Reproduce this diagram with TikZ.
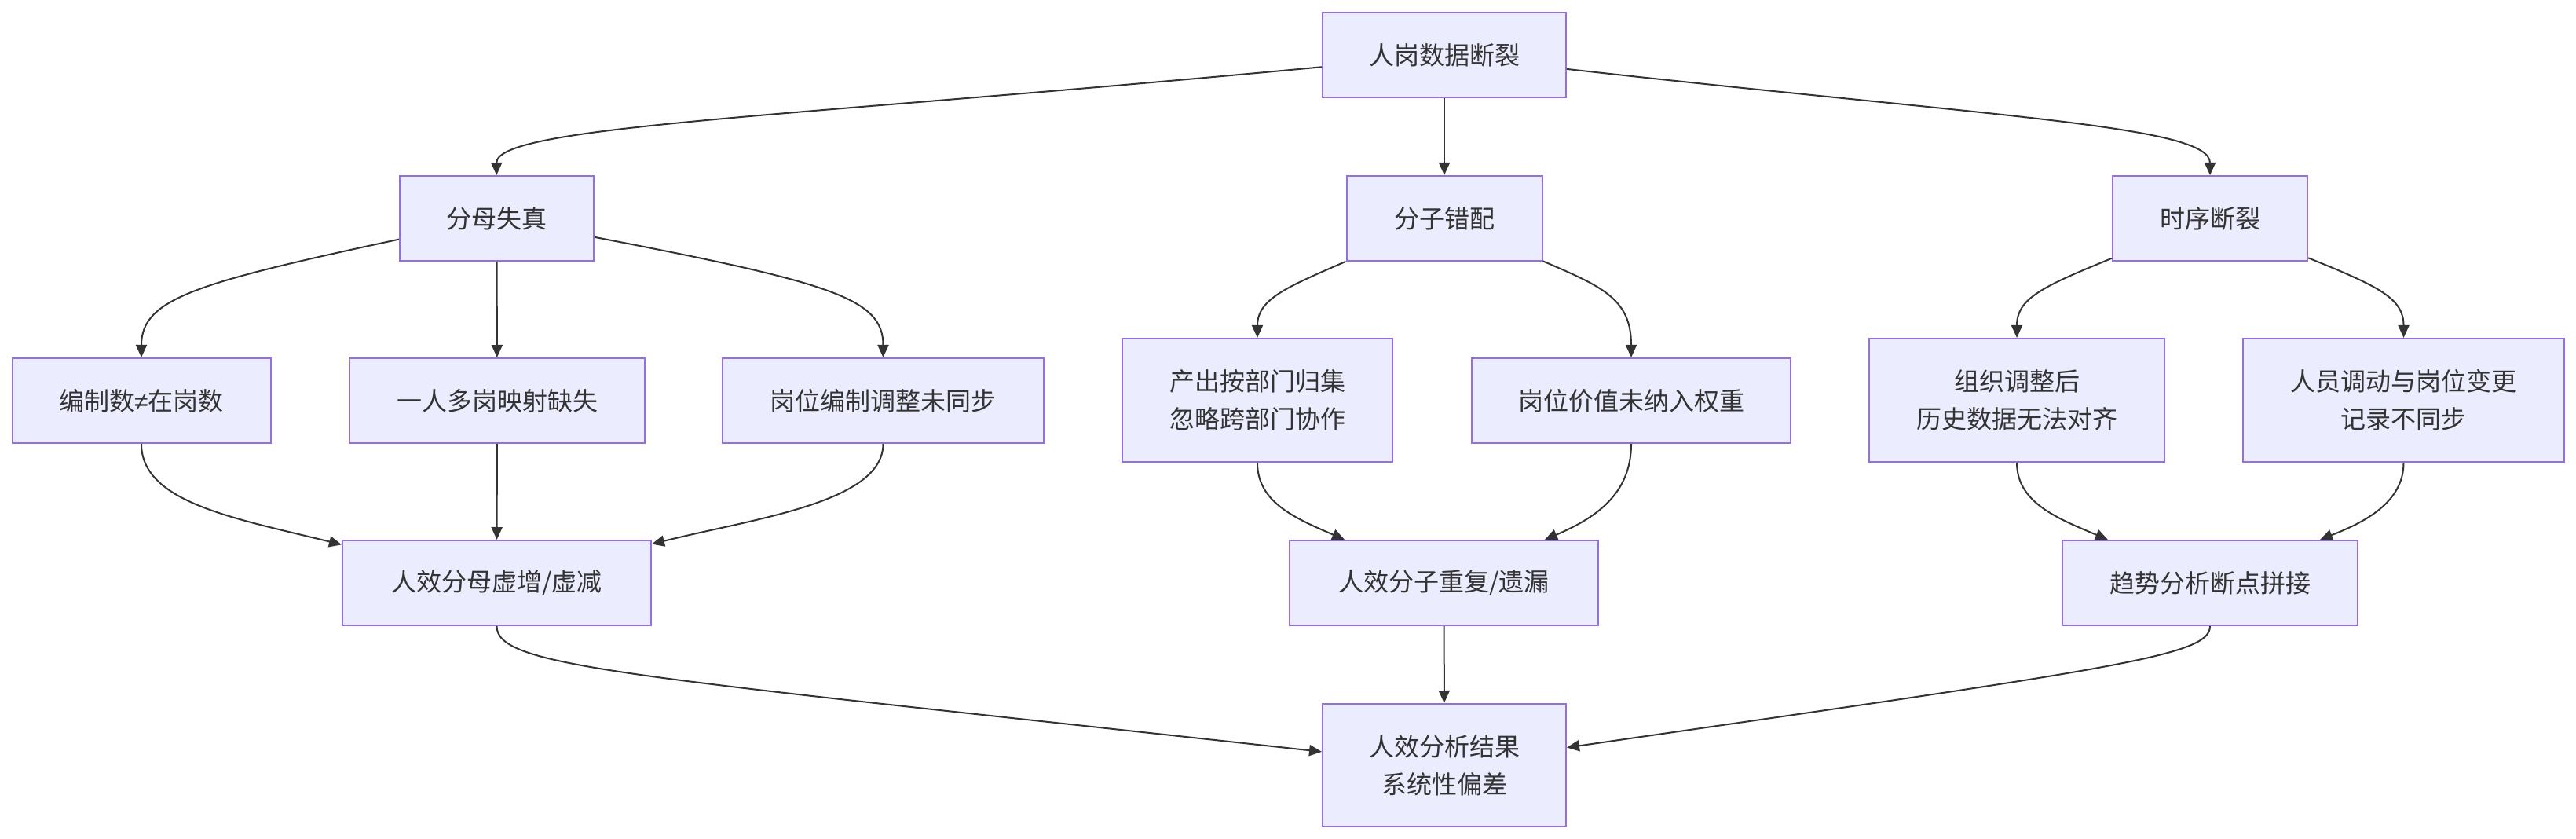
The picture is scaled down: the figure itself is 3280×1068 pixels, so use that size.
\documentclass[tikz,border=0pt]{standalone}
\usepackage{fontspec}
\setmainfont{Noto Sans CJK SC}
\newfontfamily\latinfont{Liberation Sans}
\usetikzlibrary{arrows.meta}
\definecolor{boxfill}{HTML}{ECECFF}
\definecolor{boxline}{HTML}{9370DB}
\definecolor{ink}{HTML}{333333}
\tikzset{
  box/.style={draw=boxline, fill=boxfill, line width=1pt, inner sep=0pt, align=center,
    text=ink, font=\fontsize{16pt}{24pt}\selectfont, minimum height=54pt},
  tall/.style={minimum height=78.5pt},
  conn/.style={draw=ink, line width=1pt, -{Triangle[length=8pt,width=7pt]}}
}
\begin{document}
\begin{tikzpicture}[x=0.5pt,y=-0.5pt]
\useasboundingbox (0,0) rectangle (3280,1068);
% level 0
\node[box, minimum width=155pt] (A) at (1839,70.5) {人岗数据断裂};
% level 1
\node[box, minimum width=123.5pt] (B) at (632.5,278) {分母失真};
\node[box, minimum width=124.5pt] (C) at (1839,278) {分子错配};
\node[box, minimum width=124pt] (D) at (2814,278) {时序断裂};
% level 2
\node[box, minimum width=164.5pt] (E) at (180,510) {编制数{\latinfont ≠}在岗数};
\node[box, minimum width=188pt] (F) at (633,510) {一人多岗映射缺失};
\node[box, minimum width=204.5pt] (G) at (1124.5,510) {岗位编制调整未同步};
\node[box, tall, minimum width=172pt] (I) at (1601,509.5) {产出按部门归集\\忽略跨部门协作};
\node[box, minimum width=203pt] (J) at (2077,510) {岗位价值未纳入权重};
\node[box, tall, minimum width=188pt] (L) at (2568,509.5) {组织调整后\\历史数据无法对齐};
\node[box, tall, minimum width=204.5pt] (M) at (3060.5,509.5) {人员调动与岗位变更\\记录不同步};
% level 3
\node[box, minimum width=196.5pt] (H) at (632.5,742) {人效分母虚增/虚减};
\node[box, minimum width=196.5pt] (K) at (1838.5,742) {人效分子重复/遗漏};
\node[box, minimum width=188pt] (N) at (2814,742) {趋势分析断点拼接};
% level 4
\node[box, minimum width=155pt, minimum height=78pt] (O) at (1839,974) {人效分析结果\\系统性偏差};

% edges level 0 -> 1
\draw[conn] (A) .. controls (1000,150) and (632,160) .. (B);
\draw[conn] (A) -- (C);
\draw[conn] (A) .. controls (2550,150) and (2814,160) .. (D);
% level 1 -> 2
\draw[conn] (B) .. controls (250,360) and (180,380) .. (E);
\draw[conn] (B) -- (F);
\draw[conn] (B) .. controls (1060,360) and (1124.5,380) .. (G);
\draw[conn] (C) .. controls (1640,365) and (1601,380) .. (I);
\draw[conn] (C) .. controls (2040,365) and (2077,380) .. (J);
\draw[conn] (D) .. controls (2600,365) and (2568,380) .. (L);
\draw[conn] (D) .. controls (3030,365) and (3060.5,380) .. (M);
% level 2 -> 3
\draw[conn] (E) .. controls (180,640) and (300,660) .. (H);
\draw[conn] (F) -- (H);
\draw[conn] (G) .. controls (1124.5,640) and (960,660) .. (H);
\draw[conn] (I) .. controls (1601,640) and (1650,660) .. (K);
\draw[conn] (J) .. controls (2077,630) and (2030,660) .. (K);
\draw[conn] (L) .. controls (2568,640) and (2620,660) .. (N);
\draw[conn] (M) .. controls (3060.5,640) and (3010,665) .. (N);
% level 3 -> 4
\draw[conn] (H) .. controls (632.5,850) and (800,860) .. (O);
\draw[conn] (K) -- (O);
\draw[conn] (N) .. controls (2814,835) and (2700,850) .. (O);
\end{tikzpicture}
\end{document}
